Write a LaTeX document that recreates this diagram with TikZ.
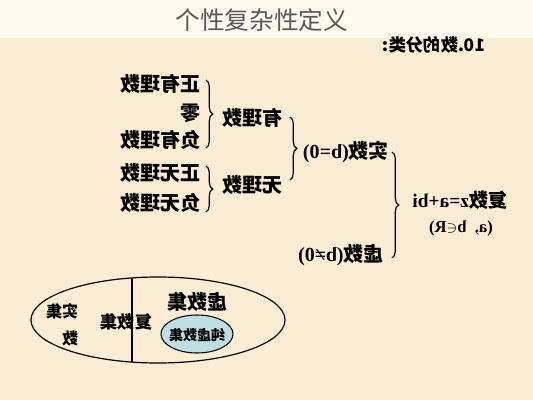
\documentclass[tikz,border=0pt]{standalone}
\usepackage{fontspec}
\setmainfont{Liberation Serif}
\newfontfamily\cjk{Noto Sans CJK SC}
\usetikzlibrary{decorations.pathreplacing}
\definecolor{bandtop}{RGB}{255,249,240}
\definecolor{paper}{RGB}{251,236,212}
\definecolor{titlegrey}{RGB}{90,90,90}
\definecolor{pureblue}{RGB}{190,222,228}
\tikzset{
  mir/.style={xscale=-1, inner sep=0.75pt, font=\cjk\bfseries},
  curly/.style={decorate, decoration={brace, amplitude=5pt}, line width=0.9pt},
}
\begin{document}
\begin{tikzpicture}[x=0.75pt,y=0.75pt,yscale=-1,xscale=1]
%background
\fill [paper] (0,0) rectangle (533,400);
\fill [bandtop] (0,0) rectangle (533,38);
\useasboundingbox (0,0) rectangle (533,400);

% Title
\node (title) at (262,20) [font=\cjk\fontsize{18.5}{20}\selectfont, text=titlegrey] {个性复杂性定义};
\node (heading) at (434,45) [mir, font=\cjk\bfseries\fontsize{13}{15}\selectfont] {10.数的分类:};

% Text Nodes, tree
\node (zyl) at (160,84) [mir, font=\cjk\bfseries\fontsize{15}{17}\selectfont] {正有理数};
\node (ling) at (190,113) [mir, font=\cjk\bfseries\fontsize{15}{17}\selectfont] {零};
\node (fyl) at (160,140) [mir, font=\cjk\bfseries\fontsize{15}{17}\selectfont] {负有理数};
\node (zwl) at (160,173) [mir, font=\cjk\bfseries\fontsize{15}{17}\selectfont] {正无理数};
\node (fwl) at (160,203) [mir, font=\cjk\bfseries\fontsize{15}{17}\selectfont] {负无理数};
\node (yl) at (252,118) [mir, font=\cjk\bfseries\fontsize{15}{17}\selectfont] {有理数};
\node (wl) at (252,185) [mir, font=\cjk\bfseries\fontsize{15}{17}\selectfont] {无理数};
\node (shi) at (346,152) [mir, font=\bfseries\fontsize{15}{17}\selectfont] {{\cjk 实数}(b=0)};
\node (xu) at (341,255) [mir, font=\bfseries\fontsize{15}{17}\selectfont] {{\cjk 虚数}(b≠0)};
\node (fu) at (460,200) [mir, font=\bfseries\fontsize{14.5}{16}\selectfont] {{\cjk 复数}z=a+bi};
\node (fucond) at (461,228) [mir, font=\bfseries\fontsize{12.5}{14}\selectfont] {(a,\ \ b$\in$R)};

% Braces
\draw [curly] (206,80) -- (206,148);
\draw [curly] (206,166) -- (206,212);
\draw [curly] (290,117) -- (290,180);
\draw [curly] (392,152) -- (392,258);

% Sets
\coordinate (ltop) at (132,278);
\coordinate (lbot) at (132,362);
\draw [line width=0.9pt] (158,320) ellipse [x radius=127, y radius=43];
\draw [line width=0.9pt] (ltop) -- (lbot);
\draw [fill=pureblue, line width=0.8pt] (197,334) ellipse [x radius=36, y radius=19];

\node (shiset) at (62,325) [mir, align=left, font=\cjk\bfseries\fontsize{12}{20}\selectfont] {实集\\数};
\node (fuset) at (126,322) [mir, font=\cjk\bfseries\fontsize{13}{15}\selectfont] {复数集};
\node (xuset) at (197,302) [mir, font=\cjk\bfseries\fontsize{15}{17}\selectfont] {虚数集};
\node (chunxu) at (197,335) [mir, font=\cjk\bfseries\fontsize{10.5}{12}\selectfont] {纯虚数集};

\end{tikzpicture}
\end{document}
